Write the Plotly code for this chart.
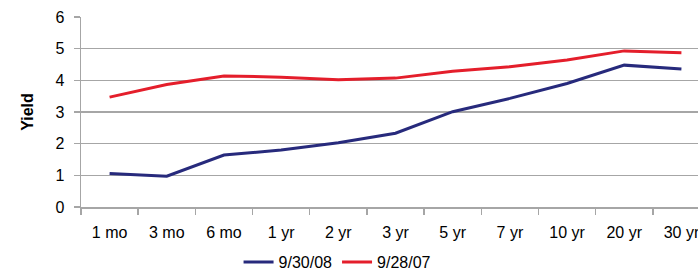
import plotly.graph_objects as go

categories = ["1 mo", "3 mo", "6 mo", "1 yr", "2 yr", "3 yr", "5 yr", "7 yr", "10 yr", "20 yr", "30 yr"]
y_2008 = [1.06, 0.97, 1.64, 1.80, 2.03, 2.33, 3.01, 3.43, 3.90, 4.48, 4.36]
y_2007 = [3.47, 3.87, 4.14, 4.10, 4.02, 4.07, 4.29, 4.43, 4.64, 4.93, 4.87]
name_2008 = "9/30/08"
name_2007 = "9/28/07"

font_family = "Liberation Sans, Arial, sans-serif"

fig = go.Figure()
fig.add_trace(go.Scatter(x=categories, y=y_2008, mode="lines", name=name_2008,
                         line=dict(color="#272a7c", width=3)))
fig.add_trace(go.Scatter(x=categories, y=y_2007, mode="lines", name=name_2007,
                         line=dict(color="#e41e2b", width=3)))

fig.update_layout(
    width=698, height=279,
    margin=dict(l=81, r=0, t=17, b=60),
    paper_bgcolor="white", plot_bgcolor="white",
    font=dict(family=font_family, size=16, color="#000000"),
    showlegend=True,
    legend=dict(orientation="h", x=0.415, xanchor="center", y=-0.29, yanchor="middle",
                font=dict(size=16), itemwidth=30, tracegroupgap=0),
)
fig.update_xaxes(
    type="category", range=[-0.5, 10.29], automargin=False,
    showgrid=False, showline=True, linecolor="#a6a6a6", linewidth=1.5,
    mirror=False, ticks="outside", ticklen=6, tickcolor="#a6a6a6", tickwidth=1.5,
    tickson="boundaries", tickfont=dict(size=16), zeroline=False,
    ticklabelstandoff=10,
)
fig.update_yaxes(
    range=[0, 6], dtick=1, showgrid=True, gridcolor="#a6a6a6", gridwidth=1.5,
    showline=True, linecolor="#a6a6a6", linewidth=1.5, automargin=False,
    ticks="outside", ticklen=6, tickcolor="#a6a6a6", tickwidth=1.5,
    tickfont=dict(size=16), zeroline=False, ticklabelstandoff=6,
    title=dict(text="<b>Yield</b>", font=dict(size=16), standoff=18),
)

fig.write_html(
    "out.html",
    config={"displayModeBar": False, "staticPlot": True},
    post_script=(
        "document.documentElement.style.margin='0';"
        "document.documentElement.style.padding='0';"
        "document.documentElement.style.overflow='hidden';"
        "document.documentElement.style.height='279px';"
        "document.body.style.margin='0';"
        "document.body.style.padding='0';"
        "document.body.style.overflow='hidden';"
        "document.body.style.height='279px';"
        "document.body.style.lineHeight='0';"
    ),
)
